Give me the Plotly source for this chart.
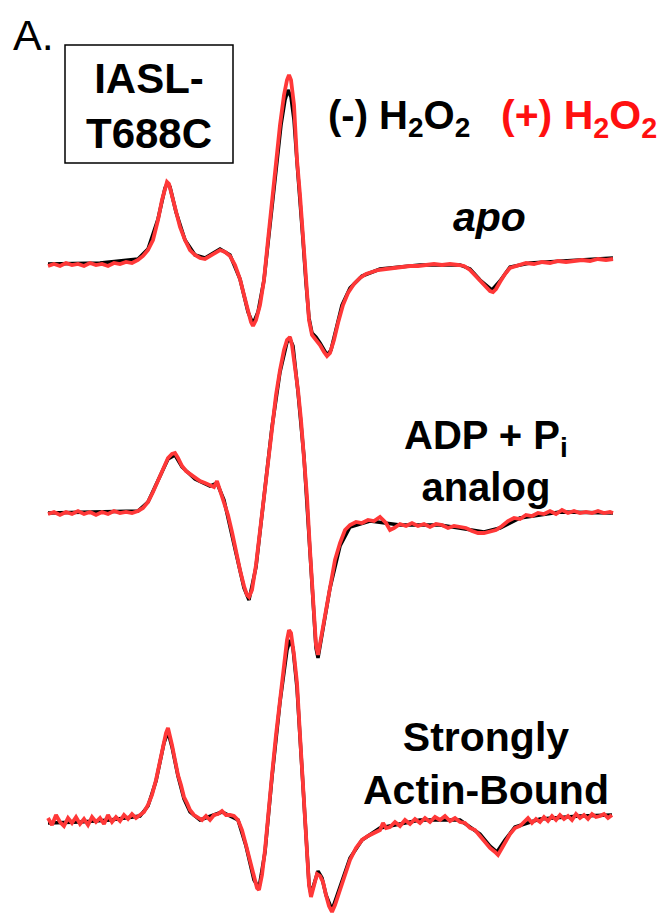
import plotly.graph_objects as go

# ---------------- data (field in G, intensity in a.u.) ----------------
# apo, (+) H2O2
apo_plus_field = [3289.6, 3290.8, 3292.0, 3293.2, 3294.4, 3295.6, 3296.8, 3298.0, 3299.2, 3300.4, 3301.6, 3302.8, 3304.0, 3305.2, 3306.4, 3307.6,
                  3308.6, 3309.6, 3310.6, 3311.6, 3312.4, 3313.0, 3313.4, 3313.8, 3314.4, 3315.2,
                  3316.0, 3317.0, 3318.0, 3319.0, 3320.0, 3321.0, 3322.0, 3323.0, 3324.0, 3325.0, 3326.0, 3327.0, 3328.0, 3328.8, 3329.6, 3330.2, 3330.6, 3331.2, 3332.0, 3332.8,
                  3333.6, 3334.4, 3335.2, 3336.0, 3336.8, 3337.4, 3337.8, 3338.2, 3338.8, 3339.4, 3340.0, 3340.6, 3341.2, 3341.8, 3342.4, 3343.2, 3344.0, 3344.8, 3345.4, 3346.0,
                  3346.8, 3347.6, 3348.6, 3349.6, 3350.8, 3352.0, 3353.2, 3354.4, 3355.6, 3357.2, 3358.8, 3360.4, 3362.0, 3363.6, 3365.2, 3366.8, 3368.4, 3370.0, 3371.6, 3372.8,
                  3374.0, 3375.0, 3376.0, 3377.0, 3378.0, 3378.6, 3379.2, 3380.0, 3381.0, 3382.0, 3383.6, 3385.2, 3386.8, 3388.4, 3390.0, 3391.6, 3393.2, 3394.8, 3396.4, 3398.0, 3399.6, 3401.2, 3402.6]
apo_plus_int = [-1, 1, -1, 2, 0, 1, -1, 2, 0, 1, -1, 2, 1, 3, 2, 5,
                9, 15, 25, 45, 65, 77, 83, 81, 70, 53,
                38, 25, 15, 10, 7, 6, 9, 13, 15, 13, 9, 0, -14, -30, -47, -57, -61, -55, -40, -15,
                25, 65, 105, 140, 170, 185, 190, 185, 160, 105, 70, 25, -20, -55, -70, -75, -80, -87, -91, -88,
                -75, -58, -40, -28, -19, -13, -9, -7, -5, -4, -3, -2, -1, -1, 0, 1, 0, 1, 0, -1,
                -5, -10, -16, -21, -26, -27, -24, -17, -9, -3, 0, 2, 1, 3, 2, 4, 3, 4, 5, 4, 6, 5, 6]
# apo, (-) H2O2
apo_minus_field = [3289.6, 3300.0, 3307.6, 3309.6, 3311.6, 3313.0, 3313.4, 3314.0, 3315.2, 3317.0,
                   3319.0, 3321.0, 3324.0, 3326.0, 3328.0, 3329.6, 3330.6, 3331.6, 3332.8, 3334.0,
                   3335.2, 3336.2, 3337.0, 3337.6, 3338.2, 3338.8, 3339.4, 3340.0, 3340.6, 3341.2,
                   3341.8, 3342.4, 3343.2, 3344.0, 3344.8, 3345.4, 3346.2, 3347.2, 3348.4, 3350.0,
                   3352.4, 3356.0, 3364.0, 3372.0, 3374.0, 3376.0, 3378.4, 3380.0, 3382.0, 3386.0,
                   3394.0, 3402.6]
apo_minus_int = [1, 2, 6, 16, 46, 77, 81, 78, 53, 25,
                 10, 7, 16, 10, -14, -47, -59, -47, -15, 40,
                 100, 140, 165, 175, 168, 145, 103, 68, 25, -18,
                 -53, -68, -72, -78, -85, -90, -85, -65, -40, -23,
                 -11, -4, 0, 0, -4, -15, -25, -16, -2, 2,
                 4, 7]

# ADP + Pi analog, (+) H2O2
adp_plus_field = [3289.6, 3290.8, 3292.0, 3293.2, 3294.4, 3295.6, 3296.8, 3298.0, 3299.2, 3300.4, 3301.6, 3302.8, 3304.0, 3305.2, 3306.4, 3307.6,
                  3308.6, 3309.6, 3310.6, 3311.6, 3312.6, 3313.6, 3314.4, 3315.0, 3315.6, 3316.4,
                  3317.2, 3318.0, 3319.0, 3320.0, 3321.0, 3322.0, 3322.8, 3323.4, 3324.0, 3324.8,
                  3325.6, 3326.4, 3327.2, 3328.0, 3328.8, 3329.4, 3329.8, 3330.4, 3331.2, 3332.0,
                  3332.8, 3333.6, 3334.4, 3335.2, 3336.0, 3336.8, 3337.4, 3338.0, 3338.4, 3339.0,
                  3339.6, 3340.2, 3340.8, 3341.4, 3342.0, 3342.6, 3343.2, 3343.6, 3344.2, 3345.0,
                  3346.0, 3347.0, 3348.0, 3349.0, 3350.0, 3351.2, 3352.4, 3353.6, 3354.8, 3356.0,
                  3357.2, 3358.0, 3358.8, 3360.0, 3361.2, 3362.4, 3363.6, 3364.8, 3366.0, 3367.2,
                  3368.4, 3369.6, 3370.8, 3372.0, 3373.2, 3374.4, 3375.6, 3376.8, 3378.0, 3379.2,
                  3380.4, 3381.6, 3382.8, 3384.0, 3385.2, 3386.4, 3387.6, 3388.8, 3390.0, 3391.2,
                  3392.4, 3393.6, 3394.8, 3396.0, 3397.2, 3398.4, 3399.6, 3400.8, 3402.0, 3402.6]
adp_plus_int = [-1, 1, -2, 1, -1, 2, -1, 1, -2, 1, -1, 2, 0, 1, 0, 2,
                5, 11, 21, 33, 45, 55, 59, 60, 55, 47,
                42, 39, 35, 32, 30, 28, 26, 32, 23, 13,
                -2, -19, -39, -57, -73, -82, -84, -77, -52, -17,
                18, 53, 88, 118, 143, 163, 173, 176, 168, 148,
                123, 93, 58, 16, -37, -87, -132, -142, -125, -102,
                -72, -47, -30, -17, -12, -9, -10, -7, -8, -4,
                -10, -17, -15, -11, -13, -10, -13, -11, -14, -11,
                -12, -15, -13, -14, -15, -18, -20, -20, -18, -17,
                -13, -8, -5, -6, -2, -3, 0, -1, 2, -1,
                3, 0, 2, 0, 1, 0, 2, 0, 1, 0]
# ADP + Pi analog, (-) H2O2
adp_minus_field = [3289.6, 3300.0, 3307.6, 3309.6, 3311.6, 3313.6, 3315.0, 3316.4, 3319.0, 3322.0,
                   3323.4, 3324.8, 3327.2, 3328.8, 3329.8, 3331.2, 3332.8, 3334.4, 3336.0, 3337.4,
                   3338.0, 3338.6, 3339.6, 3340.8, 3342.0, 3343.2, 3343.6, 3344.2, 3346.0, 3348.0,
                   3350.0, 3354.0, 3360.0, 3368.0, 3374.0, 3376.8, 3380.0, 3384.0, 3392.0, 3402.6]
adp_minus_int = [0, 1, 2, 11, 32, 54, 58, 46, 34, 27,
                 30, 13, -40, -75, -87, -54, 16, 86, 141, 171,
                 174, 167, 121, 56, -39, -135, -145, -127, -75, -33,
                 -14, -8, -12, -12, -17, -19, -15, -5, 1, 0]

# Strongly actin-bound, (+) H2O2
act_plus_field = [3289.6, 3290.4, 3291.2, 3292.0, 3292.8, 3293.6, 3294.4, 3295.2, 3296.0, 3296.8,
                  3297.6, 3298.4, 3299.2, 3300.0, 3300.8, 3301.6, 3302.4, 3303.2, 3304.0, 3304.8,
                  3305.6, 3306.4, 3307.2, 3308.0, 3308.8, 3309.6, 3310.4, 3311.2, 3312.0, 3312.8,
                  3313.2, 3313.6, 3314.0, 3314.4, 3315.0, 3315.6, 3316.2, 3316.8, 3317.4, 3318.0,
                  3318.8, 3319.6, 3320.4, 3321.2, 3322.0, 3322.8, 3323.6, 3324.4, 3325.2, 3326.0,
                  3326.8, 3327.6, 3328.4, 3329.2, 3330.0, 3330.8, 3331.4, 3331.8, 3332.4, 3333.0,
                  3333.6, 3334.4, 3335.2, 3336.0, 3336.8, 3337.4, 3337.8, 3338.2, 3338.8, 3339.4,
                  3340.0, 3340.6, 3341.2, 3341.8, 3342.2, 3342.8, 3343.4, 3344.0, 3344.6, 3345.2,
                  3345.8, 3346.4, 3347.0, 3348.0, 3349.0, 3350.0, 3351.2, 3352.4, 3353.6, 3354.8,
                  3356.0, 3356.6, 3357.2, 3358.0, 3359.0, 3360.0, 3361.0, 3362.0, 3363.0, 3364.0,
                  3365.0, 3366.0, 3367.0, 3368.0, 3369.0, 3370.0, 3371.0, 3372.0, 3373.0, 3374.0,
                  3375.0, 3376.0, 3377.0, 3378.0, 3379.0, 3379.6, 3380.4, 3381.2, 3382.0, 3383.0,
                  3384.0, 3384.8, 3385.6, 3386.4, 3387.2, 3388.0, 3388.8, 3389.6, 3390.4, 3391.2,
                  3392.0, 3392.8, 3393.6, 3394.4, 3395.2, 3396.0, 3396.8, 3397.6, 3398.4, 3399.2,
                  3400.0, 3400.8, 3401.6, 3402.4]
act_plus_int = [4, -3, 7, 0, -4, 4, -1, 5, -2, 3,
                -3, 5, 0, 4, -2, 7, 0, 5, 1, 7,
                3, 8, 4, 7, 10, 17, 27, 42, 62, 80,
                89, 94, 87, 77, 62, 47, 37, 25, 19, 12,
                7, 4, 2, 6, 2, 7, 8, 11, 7, 7,
                6, 2, -8, -23, -40, -56, -66, -68, -53, -28,
                7, 47, 87, 122, 157, 182, 192, 189, 167, 139,
                87, 35, -18, -63, -75, -63, -52, -54, -60, -73,
                -84, -90, -83, -68, -53, -38, -26, -18, -14, -11,
                -8, -1, -6, -5, 0, -4, 2, -2, 3, -1,
                4, 0, 5, 2, 6, 1, 4, 0, -1, -6,
                -8, -14, -20, -26, -30, -33, -26, -18, -12, -6,
                -4, 0, 4, -1, 3, 0, 5, 1, 6, 2,
                7, 3, 6, 2, 8, 4, 7, 3, 8, 5,
                6, 8, 4, 7]
# Strongly actin-bound, (-) H2O2
act_minus_field = [3289.6, 3296.0, 3302.0, 3308.0, 3309.6, 3311.2, 3312.8, 3313.6, 3314.4, 3315.6,
                   3316.8, 3318.0, 3320.0, 3324.4, 3327.6, 3329.2, 3330.8, 3331.8, 3333.0, 3334.4,
                   3336.0, 3337.4, 3338.0, 3338.6, 3339.4, 3340.6, 3341.8, 3342.2, 3342.8, 3343.6,
                   3344.4, 3345.2, 3346.4, 3348.0, 3350.0, 3352.4, 3356.0, 3364.0, 3372.0, 3376.0,
                   3378.0, 3379.4, 3381.0, 3383.0, 3388.0, 3396.0, 3402.4]
act_minus_int = [-1, 0, 2, 6, 16, 41, 79, 90, 75, 46,
                 23, 10, 2, 10, 2, -24, -58, -66, -30, 45,
                 120, 172, 182, 174, 134, 32, -62, -72, -61, -49,
                 -56, -73, -88, -66, -36, -18, -6, 2, 2, -12,
                 -24, -30, -18, -5, 3, 6, 7]

sample_labels = ["<b><i>apo</i></b>", "<b>ADP + P<sub>i</sub><br>analog</b>", "<b>Strongly<br>Actin-Bound</b>"]
condition_labels = ["<b>(-) H<sub>2</sub>O<sub>2</sub></b>", "<b>(+) H<sub>2</sub>O<sub>2</sub></b>"]
construct_label = "<b>IASL-<br>T688C</b>"
panel_label = "A."

# ---------------- layout / styles ----------------
W, H = 660, 919
BLACK = "#000000"
RED_LINE = "#ff3838"
RED_TEXT = "#ff1010"
FONT = "Liberation Sans, Arial, sans-serif"
stack_offsets = [-265, -513, -822]   # vertical stacking of the spectra


def px(x):
    return x / W


def py(y):
    return 1 - y / H


fig = go.Figure()
spectra = [
    (apo_minus_field, apo_minus_int, apo_plus_field, apo_plus_int),
    (adp_minus_field, adp_minus_int, adp_plus_field, adp_plus_int),
    (act_minus_field, act_minus_int, act_plus_field, act_plus_int),
]
for (mf, mi, pf, pi), off in zip(spectra, stack_offsets):
    fig.add_trace(go.Scatter(x=mf, y=[v + off for v in mi], mode="lines",
                             line=dict(color=BLACK, width=3.5), hoverinfo="skip", showlegend=False))
    fig.add_trace(go.Scatter(x=pf, y=[v + off for v in pi], mode="lines",
                             line=dict(color=RED_LINE, width=3.8), hoverinfo="skip", showlegend=False))

annotations = [
    dict(text=panel_label, x=px(11), y=py(35), xanchor="left", yanchor="middle",
         font=dict(size=43, color=BLACK, family=FONT)),
    dict(text=construct_label, x=px(149), y=py(106), xanchor="center", yanchor="middle",
         font=dict(size=42, color=BLACK, family=FONT)),
    dict(text=condition_labels[0], x=px(326), y=py(118), xanchor="left", yanchor="middle",
         font=dict(size=40, color=BLACK, family=FONT)),
    dict(text=condition_labels[1], x=px(499), y=py(118), xanchor="left", yanchor="middle",
         font=dict(size=41, color=RED_TEXT, family=FONT)),
    dict(text=sample_labels[0], x=px(489), y=py(217), xanchor="center", yanchor="middle",
         font=dict(size=41, color=BLACK, family=FONT)),
    dict(text=sample_labels[1], x=px(486), y=py(461), xanchor="center", yanchor="middle",
         font=dict(size=40, color=BLACK, family=FONT)),
    dict(text=sample_labels[2], x=px(486), y=py(763), xanchor="center", yanchor="middle",
         font=dict(size=41, color=BLACK, family=FONT)),
]
for a in annotations:
    a.update(xref="paper", yref="paper", showarrow=False)

fig.update_layout(
    width=W, height=H, autosize=False,
    margin=dict(l=0, r=0, t=0, b=0, pad=0),
    paper_bgcolor="white", plot_bgcolor="white",
    xaxis=dict(range=[3280, 3412], visible=False, fixedrange=True),
    yaxis=dict(range=[-H, 0], visible=False, fixedrange=True),
    annotations=annotations,
    shapes=[dict(type="rect", xref="paper", yref="paper",
                 x0=px(65), x1=px(233), y0=py(45), y1=py(163),
                 line=dict(color=BLACK, width=1.5), fillcolor="rgba(0,0,0,0)")],
)

fig.write_html("out.html", config={"displayModeBar": False},
               post_script="document.body.style.margin='0';document.body.style.overflow='hidden';")
